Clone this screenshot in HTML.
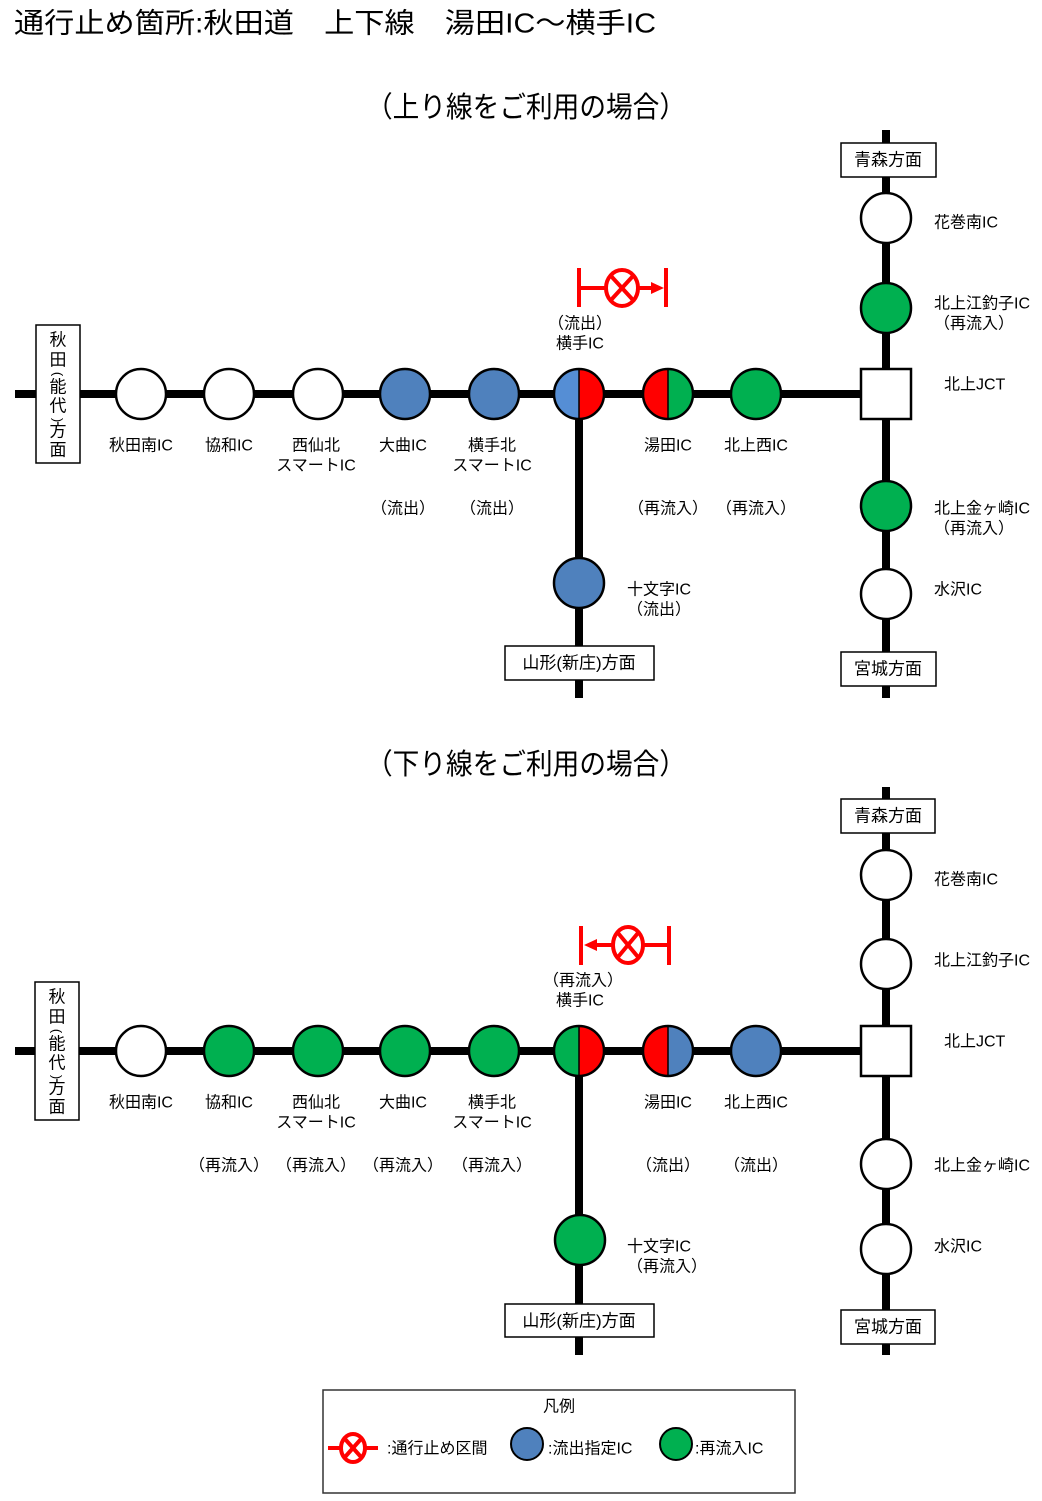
<!DOCTYPE html>
<html><head><meta charset="utf-8"><style>
html,body{margin:0;padding:0;background:#fff}
svg text{font-family:"Liberation Sans","Noto Sans CJK JP",sans-serif;fill:#000}
.l{font-size:16px;text-anchor:middle;dominant-baseline:central}
.r{font-size:16px;dominant-baseline:central}
.b{font-size:17px;text-anchor:middle;dominant-baseline:central}
</style></head><body>
<svg width="1042" height="1496" viewBox="0 0 1042 1496" xmlns="http://www.w3.org/2000/svg">
<text x="14" y="23" style="font-size:28px;dominant-baseline:central" textLength="642" lengthAdjust="spacingAndGlyphs">通行止め箇所:秋田道　上下線　湯田IC～横手IC</text>
<text x="366" y="108" style="font-size:29px;dominant-baseline:central" textLength="320" lengthAdjust="spacingAndGlyphs">（上り線をご利用の場合）</text>
<text x="366" y="765" style="font-size:29px;dominant-baseline:central" textLength="320" lengthAdjust="spacingAndGlyphs">（下り線をご利用の場合）</text>

<!-- ===== TOP ===== -->
<g stroke="#000" stroke-width="8">
<line x1="15" y1="394" x2="886" y2="394"/>
<line x1="886" y1="130" x2="886" y2="698"/>
<line x1="579" y1="394" x2="579" y2="698"/>
</g>
<g stroke="#000" stroke-width="2.5">
<rect x="36" y="325" width="44" height="138" fill="#fff" stroke-width="1.5"/>
<rect x="841" y="143" width="95" height="34" fill="#fff" stroke-width="1.5"/>
<rect x="841" y="652" width="95" height="34" fill="#fff" stroke-width="1.5"/>
<rect x="505" y="646" width="149" height="34" fill="#fff" stroke-width="1.5"/>
<circle cx="141" cy="394" r="25" fill="#fff"/>
<circle cx="229" cy="394" r="25" fill="#fff"/>
<circle cx="318" cy="394" r="25" fill="#fff"/>
<circle cx="405" cy="394" r="25" fill="#4f81bd"/>
<circle cx="494" cy="394" r="25" fill="#4f81bd"/>
<path d="M579 369 A25 25 0 0 0 579 419 Z" fill="#558ed5" stroke="none"/>
<path d="M579 369 A25 25 0 0 1 579 419 Z" fill="#ff0000" stroke="none"/>
<circle cx="579" cy="394" r="25" fill="none"/>
<line x1="579" y1="369" x2="579" y2="419" stroke-width="1.5"/>
<path d="M668 369 A25 25 0 0 0 668 419 Z" fill="#ff0000" stroke="none"/>
<path d="M668 369 A25 25 0 0 1 668 419 Z" fill="#00b050" stroke="none"/>
<circle cx="668" cy="394" r="25" fill="none"/>
<line x1="668" y1="369" x2="668" y2="419" stroke-width="1.5"/>
<circle cx="756" cy="394" r="25" fill="#00b050"/>
<rect x="861" y="369" width="50" height="50" fill="#fff"/>
<circle cx="886" cy="218" r="25" fill="#fff"/>
<circle cx="886" cy="308" r="25" fill="#00b050"/>
<circle cx="886" cy="506" r="25" fill="#00b050"/>
<circle cx="886" cy="594" r="25" fill="#fff"/>
<circle cx="579" cy="583" r="25" fill="#4f81bd"/>
</g>
<g stroke="#ff0000" stroke-width="4" fill="none">
<line x1="579" y1="268" x2="579" y2="307"/>
<line x1="666" y1="268" x2="666" y2="307"/>
<line x1="579" y1="288" x2="605" y2="288"/>
<line x1="639" y1="288" x2="652" y2="288"/>
<ellipse cx="622" cy="288" rx="16" ry="18"/>
<line x1="611" y1="276" x2="633" y2="300"/>
<line x1="633" y1="276" x2="611" y2="300"/>
</g>
<path d="M651 282 L664 288 L651 294 Z" fill="#ff0000"/>

<text class="b" x="58" y="340">秋</text><text class="b" x="58" y="360">田</text><text class="b" x="58" y="374" transform="rotate(90 58 374)" style="font-size:13px">(</text><text class="b" x="58" y="387">能</text><text class="b" x="58" y="406">代</text><text class="b" x="58" y="420" transform="rotate(90 58 420)" style="font-size:13px">)</text><text class="b" x="58" y="431">方</text><text class="b" x="58" y="450">面</text>
<text class="b" x="888" y="160">青森方面</text>
<text class="b" x="888" y="669">宮城方面</text>
<text class="b" x="579" y="663">山形(新庄)方面</text>
<text class="l" x="141" y="446">秋田南IC</text>
<text class="l" x="229" y="446">協和IC</text>
<text class="l" x="316" y="446">西仙北</text><text class="l" x="316" y="466">スマートIC</text>
<text class="l" x="403" y="446">大曲IC</text>
<text class="l" x="492" y="446">横手北</text><text class="l" x="492" y="466">スマートIC</text>
<text class="l" x="668" y="446">湯田IC</text>
<text class="l" x="756" y="446">北上西IC</text>
<text class="l" x="403" y="509">（流出）</text>
<text class="l" x="492" y="509">（流出）</text>
<text class="l" x="668" y="509">（再流入）</text>
<text class="l" x="756" y="509">（再流入）</text>
<text class="l" x="580" y="324">（流出）</text>
<text class="l" x="580" y="344">横手IC</text>
<text class="r" x="934" y="223">花巻南IC</text>
<text class="r" x="934" y="304">北上江釣子IC</text>
<text class="r" x="934" y="324">（再流入）</text>
<text class="r" x="944" y="385">北上JCT</text>
<text class="r" x="934" y="509">北上金ヶ崎IC</text>
<text class="r" x="934" y="529">（再流入）</text>
<text class="r" x="934" y="590">水沢IC</text>
<text class="r" x="627" y="590">十文字IC</text>
<text class="r" x="627" y="610">（流出）</text>

<!-- ===== BOTTOM ===== -->
<g stroke="#000" stroke-width="8">
<line x1="15" y1="1051" x2="886" y2="1051"/>
<line x1="886" y1="787" x2="886" y2="1355"/>
<line x1="579" y1="1051" x2="579" y2="1355"/>
</g>
<g stroke="#000" stroke-width="2.5">
<rect x="35" y="982" width="44" height="138" fill="#fff" stroke-width="1.5"/>
<rect x="841" y="799" width="94" height="34" fill="#fff" stroke-width="1.5"/>
<rect x="841" y="1310" width="94" height="34" fill="#fff" stroke-width="1.5"/>
<rect x="505" y="1304" width="149" height="33" fill="#fff" stroke-width="1.5"/>
<circle cx="141" cy="1051" r="25" fill="#fff"/>
<circle cx="229" cy="1051" r="25" fill="#00b050"/>
<circle cx="318" cy="1051" r="25" fill="#00b050"/>
<circle cx="405" cy="1051" r="25" fill="#00b050"/>
<circle cx="494" cy="1051" r="25" fill="#00b050"/>
<path d="M579 1026 A25 25 0 0 0 579 1076 Z" fill="#00b050" stroke="none"/>
<path d="M579 1026 A25 25 0 0 1 579 1076 Z" fill="#ff0000" stroke="none"/>
<circle cx="579" cy="1051" r="25" fill="none"/>
<line x1="579" y1="1026" x2="579" y2="1076" stroke-width="1.5"/>
<path d="M668 1026 A25 25 0 0 0 668 1076 Z" fill="#ff0000" stroke="none"/>
<path d="M668 1026 A25 25 0 0 1 668 1076 Z" fill="#4f81bd" stroke="none"/>
<circle cx="668" cy="1051" r="25" fill="none"/>
<line x1="668" y1="1026" x2="668" y2="1076" stroke-width="1.5"/>
<circle cx="756" cy="1051" r="25" fill="#4f81bd"/>
<rect x="861" y="1026" width="50" height="50" fill="#fff"/>
<circle cx="886" cy="875" r="25" fill="#fff"/>
<circle cx="886" cy="964" r="25" fill="#fff"/>
<circle cx="886" cy="1164" r="25" fill="#fff"/>
<circle cx="886" cy="1249" r="25" fill="#fff"/>
<circle cx="580" cy="1240" r="25" fill="#00b050"/>
</g>
<g stroke="#ff0000" stroke-width="4" fill="none">
<line x1="581" y1="926" x2="581" y2="965"/>
<line x1="669" y1="926" x2="669" y2="965"/>
<line x1="595" y1="945" x2="613" y2="945"/>
<line x1="643" y1="945" x2="669" y2="945"/>
<ellipse cx="628" cy="945" rx="15" ry="18"/>
<line x1="618" y1="933" x2="638" y2="957"/>
<line x1="638" y1="933" x2="618" y2="957"/>
</g>
<path d="M597 939 L584 945 L597 951 Z" fill="#ff0000"/>

<text class="b" x="57" y="997">秋</text><text class="b" x="57" y="1017">田</text><text class="b" x="57" y="1031" transform="rotate(90 57 1031)" style="font-size:13px">(</text><text class="b" x="57" y="1044">能</text><text class="b" x="57" y="1063">代</text><text class="b" x="57" y="1077" transform="rotate(90 57 1077)" style="font-size:13px">)</text><text class="b" x="57" y="1088">方</text><text class="b" x="57" y="1107">面</text>
<text class="b" x="888" y="816">青森方面</text>
<text class="b" x="888" y="1327">宮城方面</text>
<text class="b" x="579" y="1321">山形(新庄)方面</text>
<text class="l" x="141" y="1103">秋田南IC</text>
<text class="l" x="229" y="1103">協和IC</text>
<text class="l" x="316" y="1103">西仙北</text><text class="l" x="316" y="1123">スマートIC</text>
<text class="l" x="403" y="1103">大曲IC</text>
<text class="l" x="492" y="1103">横手北</text><text class="l" x="492" y="1123">スマートIC</text>
<text class="l" x="668" y="1103">湯田IC</text>
<text class="l" x="756" y="1103">北上西IC</text>
<text class="l" x="229" y="1166">（再流入）</text>
<text class="l" x="316" y="1166">（再流入）</text>
<text class="l" x="403" y="1166">（再流入）</text>
<text class="l" x="492" y="1166">（再流入）</text>
<text class="l" x="668" y="1166">（流出）</text>
<text class="l" x="756" y="1166">（流出）</text>
<text class="l" x="583" y="981">（再流入）</text>
<text class="l" x="580" y="1001">横手IC</text>
<text class="r" x="934" y="880">花巻南IC</text>
<text class="r" x="934" y="961">北上江釣子IC</text>
<text class="r" x="944" y="1042">北上JCT</text>
<text class="r" x="934" y="1166">北上金ヶ崎IC</text>
<text class="r" x="934" y="1247">水沢IC</text>
<text class="r" x="627" y="1247">十文字IC</text>
<text class="r" x="627" y="1267">（再流入）</text>

<!-- ===== LEGEND ===== -->
<rect x="323" y="1390" width="472" height="103" fill="#fff" stroke="#333" stroke-width="1.5"/>
<text class="l" x="559" y="1407">凡例</text>
<g stroke="#ff0000" stroke-width="4" fill="none">
<line x1="328" y1="1448" x2="341" y2="1448"/>
<line x1="365" y1="1448" x2="378" y2="1448"/>
<ellipse cx="353" cy="1448" rx="12" ry="14"/>
<line x1="345" y1="1439" x2="361" y2="1457"/>
<line x1="361" y1="1439" x2="345" y2="1457"/>
</g>
<text class="r" x="387" y="1449">:通行止め区間</text>
<circle cx="527" cy="1444" r="16" fill="#4f81bd" stroke="#000" stroke-width="2"/>
<text class="r" x="548" y="1449">:流出指定IC</text>
<circle cx="676" cy="1444" r="16" fill="#00b050" stroke="#000" stroke-width="2"/>
<text class="r" x="695" y="1449">:再流入IC</text>
</svg>
</body></html>
